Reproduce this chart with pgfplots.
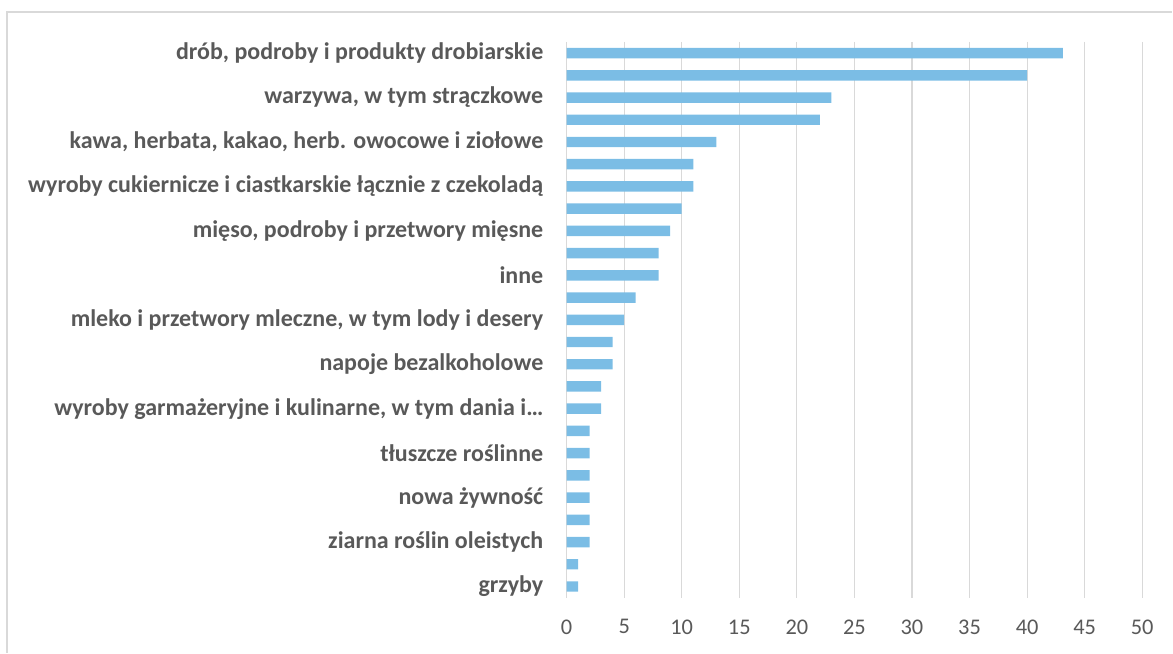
\documentclass[border=0pt]{standalone}
\usepackage{pgfplots}
\pgfplotsset{compat=1.18}
\usepackage{fontspec}
\setmainfont{Carlito}
\definecolor{barblue}{HTML}{7BBDE5}
\definecolor{gridgray}{HTML}{D9D9D9}
\definecolor{txtgray}{HTML}{595959}

\begin{document}
\begin{tikzpicture}
% canvas 1173 x 653 px at 0.75pt per px
\path (0pt,0pt) rectangle (879.75pt,489.75pt);
\draw[gridgray,line width=1.2pt] (5.25pt,0pt) -- (5.25pt,480.75pt) -- (879.75pt,480.75pt);
\begin{axis}[
  at={(425.25pt,41.25pt)}, anchor=south west,
  scale only axis,
  width=432pt, height=417pt,
  xmin=0, xmax=50,
  ymin=-0.5, ymax=24.5,
  y dir=reverse,
  xtick={0,5,...,50},
  ytick={0,2,...,24},
  yticklabels={
    drób{,} podroby i produkty drobiarskie,
    warzywa{,} w tym strączkowe,
    kawa{,} herbata{,} kakao{,} herb. owocowe i ziołowe,
    wyroby cukiernicze i ciastkarskie łącznie z czekoladą,
    mięso{,} podroby i przetwory mięsne,
    inne,
    mleko i przetwory mleczne{,} w tym lody i desery,
    napoje bezalkoholowe,
    wyroby garmażeryjne i kulinarne{,} w tym dania i…,
    tłuszcze roślinne,
    nowa żywność,
    ziarna roślin oleistych,
    grzyby},
  xmajorgrids,
  major grid style={gridgray, line width=0.9pt},
  major tick length=0pt,
  axis x line*=bottom,
  x axis line style={draw=none},
  axis y line*=left,
  y axis line style={gridgray, line width=0.9pt},
  yticklabel style={font=\fontsize{18pt}{20pt}\selectfont\bfseries, text=txtgray, xshift=-14pt},
  xticklabel style={font=\fontsize{16.8pt}{19pt}\selectfont, text=txtgray, yshift=-13pt},
  /pgf/number format/assume math mode=true,
  xbar, bar width=0.47,
]
\addplot[fill=barblue, draw=none] coordinates {
  (43.1,0) (40,1) (23,2) (22,3) (13,4) (11,5) (11,6) (10,7) (9,8) (8,9)
  (8,10) (6,11) (5,12) (4,13) (4,14) (3,15) (3,16) (2,17) (2,18) (2,19)
  (2,20) (2,21) (2,22) (1,23) (1,24)
};
\end{axis}
\end{tikzpicture}
\end{document}
